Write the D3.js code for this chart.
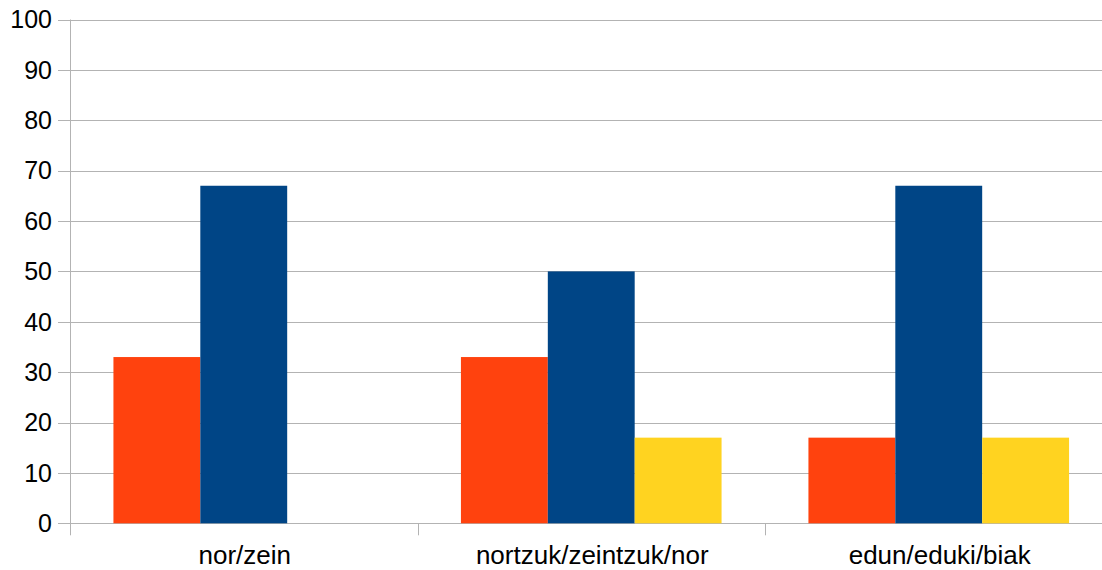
<!DOCTYPE html>
<html>
<head>
<meta charset="utf-8">
<script src="https://cdn.jsdelivr.net/npm/d3@7/dist/d3.min.js"></script>
<style>
  html, body { margin: 0; padding: 0; background: #ffffff; }
  svg { display: block; }
  text { font-family: "Liberation Sans", Arial, sans-serif; fill: #000; }
</style>
</head>
<body>
<svg id="chart" width="1102" height="570"></svg>
<script>
// Categories and series values
const categories = ["nor/zein", "nortzuk/zeintzuk/nor", "edun/eduki/biak"];
const seriesNames = ["A", "B", "C"];
const seriesA = [33, 33, 17];
const seriesB = [67, 50, 67];
const seriesC = [0, 17, 17];
const yTicks = [0, 10, 20, 30, 40, 50, 60, 70, 80, 90, 100];
const colors = ["#ff420e", "#004586", "#ffd320"];

const series = [seriesA, seriesB, seriesC];

const svg = d3.select("#chart");
const plotLeft = 70, plotRight = 1112.5, plotTop = 19.5, plotBottom = 523.3;

const x0 = d3.scaleBand().domain(categories).range([plotLeft, plotRight]).padding(0);
const x1 = d3.scaleBand().domain(seriesNames)
  .range([x0.bandwidth() * 0.125, x0.bandwidth() * 0.875]).padding(0);
const y = d3.scaleLinear().domain([0, 100]).range([plotBottom, plotTop]);

// Horizontal grid lines
svg.append("g")
  .selectAll("line")
  .data(yTicks)
  .join("line")
  .attr("x1", plotLeft - 12)
  .attr("x2", plotRight)
  .attr("y1", d => Math.round(y(d)) + 0.5)
  .attr("y2", d => Math.round(y(d)) + 0.5)
  .attr("stroke", "#b3b3b3")
  .attr("stroke-width", 1);

// Y tick labels
svg.append("g")
  .selectAll("text")
  .data(yTicks)
  .join("text")
  .attr("x", 52)
  .attr("y", d => y(d))
  .attr("dy", "0.35em")
  .attr("text-anchor", "end")
  .attr("font-size", 25)
  .text(d => d);

// Bars
const groups = svg.append("g")
  .selectAll("g")
  .data(categories)
  .join("g")
  .attr("transform", d => `translate(${x0(d)},0)`);

groups.selectAll("rect")
  .data((c, i) => seriesNames.map((s, j) => ({ s, v: series[j][i], j })))
  .join("rect")
  .attr("x", d => x1(d.s))
  .attr("width", x1.bandwidth())
  .attr("y", d => y(d.v))
  .attr("height", d => y(0) - y(d.v))
  .attr("fill", d => colors[d.j]);

// Axis lines
svg.append("line")
  .attr("x1", plotLeft + 0.5).attr("x2", plotLeft + 0.5)
  .attr("y1", plotTop).attr("y2", plotBottom + 12)
  .attr("stroke", "#b3b3b3");

const catEdges = categories.map(c => x0(c)).concat([plotRight]);
svg.append("g")
  .selectAll("line")
  .data(catEdges.slice(1))
  .join("line")
  .attr("x1", d => Math.round(d) + 0.5)
  .attr("x2", d => Math.round(d) + 0.5)
  .attr("y1", plotBottom)
  .attr("y2", plotBottom + 12)
  .attr("stroke", "#b3b3b3");

// Category labels
svg.append("g")
  .selectAll("text")
  .data(categories)
  .join("text")
  .attr("x", d => x0(d) + x0.bandwidth() / 2 + 1)
  .attr("y", 564)
  .attr("text-anchor", "middle")
  .attr("font-size", 26)
  .text(d => d);
</script>
</body>
</html>
